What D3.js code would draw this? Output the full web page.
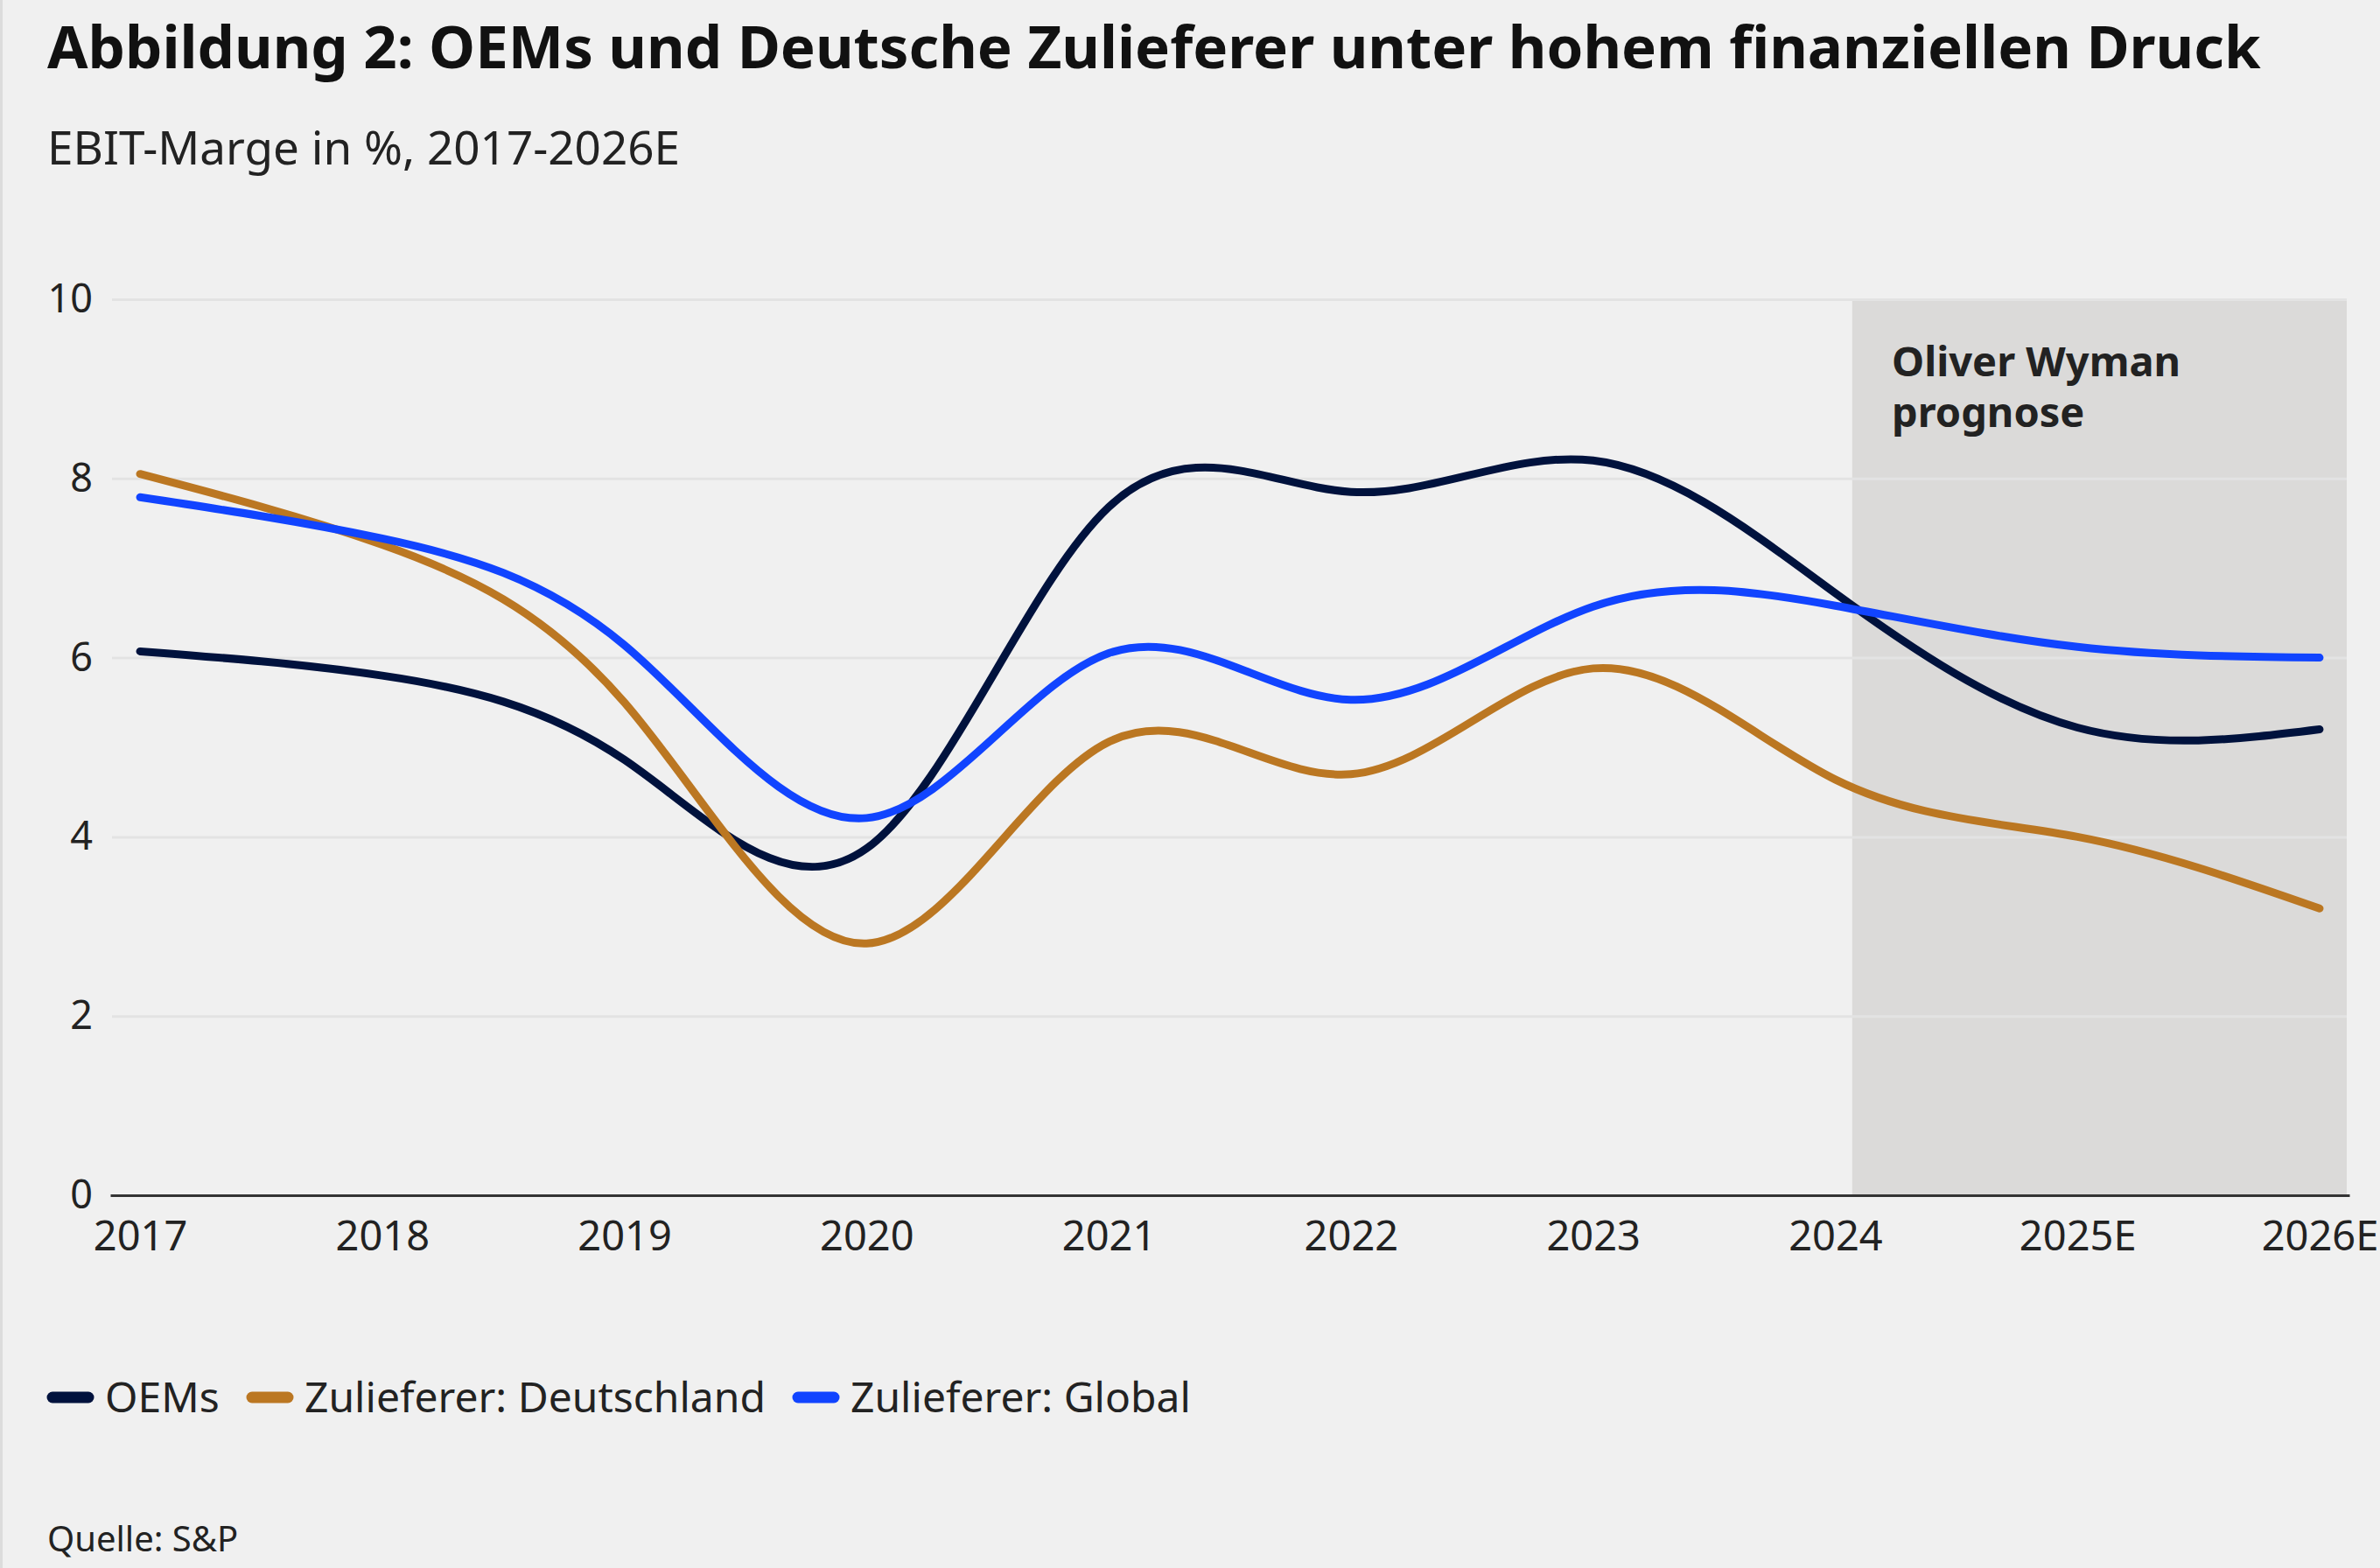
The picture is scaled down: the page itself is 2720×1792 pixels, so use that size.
<!DOCTYPE html>
<html>
<head>
<meta charset="utf-8">
<script src="https://cdn.jsdelivr.net/npm/d3@7"></script>
<style>
  html, body { margin: 0; padding: 0; background: #f0f0f0; }
  svg { display: block; font-family: "Noto Sans", sans-serif; }
</style>
</head>
<body>
<svg width="2720" height="1792"></svg>
<script>
// data
const years = ['2017', '2018', '2019', '2020', '2021', '2022', '2023', '2024', '2025E', '2026E'];
const oems = [6.07, 5.8, 4.86, 3.87, 7.68, 7.85, 8.2, 6.72, 5.22, 5.2];
const zuliefererDE = [8.05, 7.26, 5.5, 2.81, 5.06, 4.7, 5.88, 4.64, 4.0, 3.2];
const zuliefererGlobal = [7.79, 7.33, 6.14, 4.21, 6.05, 5.53, 6.57, 6.58, 6.12, 6.0];
const yTicks = [0, 2, 4, 6, 8, 10];
const forecastFrom = '2024';

const series = [
  { name: 'OEMs', values: oems, color: '#00123d' },
  { name: 'Zulieferer: Deutschland', values: zuliefererDE, color: '#bb7722' },
  { name: 'Zulieferer: Global', values: zuliefererGlobal, color: '#1144ff' }
];

const svg = d3.select('svg');
const width = +svg.attr('width');
const height = +svg.attr('height');

svg.append('rect').attr('width', width).attr('height', height).attr('fill', '#f0f0f0');
svg.append('rect').attr('width', 3).attr('height', height).attr('fill', '#dcdcdc');

// titles
svg.append('text')
   .attr('x', 54).attr('y', 78)
   .attr('font-size', 67.2).attr('font-weight', 700).attr('fill', '#111')
   .text('Abbildung 2: OEMs und Deutsche Zulieferer unter hohem finanziellen Druck');
svg.append('text')
   .attr('x', 54).attr('y', 188)
   .attr('font-size', 53).attr('fill', '#222')
   .text('EBIT-Marge in %, 2017-2026E');

const plot = { left: 126, right: 2685, top: 342, bottom: 1366 };

const xScale = d3.scalePoint()
                 .domain(years)
                 .range([plot.left, plot.right])
                 .padding(0.123);

const yScale = d3.scaleLinear()
                 .domain([0, 10])
                 .range([plot.bottom, plot.top]);

// forecast shading
const shadeStart = xScale(forecastFrom) + 0.07 * xScale.step();
svg.append('rect')
   .attr('x', shadeStart)
   .attr('y', yScale(10))
   .attr('width', 2682 - shadeStart)
   .attr('height', yScale(0) - yScale(10))
   .attr('fill', '#dbdad9');

// y axis + gridlines
const yAxis = d3.axisLeft(yScale)
                .tickValues(yTicks)
                .tickSizeInner(-(2682 - 128))
                .tickSizeOuter(0)
                .tickPadding(22);
const yG = svg.append('g').attr('transform', 'translate(128,0)').call(yAxis);
yG.select('.domain').remove();
yG.selectAll('.tick line').attr('stroke', '#e3e3e3').attr('stroke-width', 3);
yG.selectAll('.tick text')
  .attr('font-size', 45).attr('fill', '#222')
  .attr('font-family', '"Noto Sans", sans-serif');
yG.selectAll('.tick').filter(d => d === 0).select('line').remove();

// annotation (two lines)
svg.append('text')
   .attr('x', 2162).attr('y', 430)
   .attr('font-size', 47).attr('font-weight', 700).attr('fill', '#222')
   .text('Oliver Wyman');
svg.append('text')
   .attr('x', 2162).attr('y', 488)
   .attr('font-size', 47).attr('font-weight', 700).attr('fill', '#222')
   .text('prognose');

// x axis
const xAxis = d3.axisBottom(xScale).tickSize(0).tickPadding(30);
const xG = svg.append('g').attr('transform', `translate(0,${plot.bottom})`).call(xAxis);
xG.select('.domain').attr('stroke', '#333').attr('stroke-width', 3);
xG.selectAll('.tick text')
  .attr('font-size', 47).attr('fill', '#222')
  .attr('font-family', '"Noto Sans", sans-serif');

// lines
const line = d3.line()
               .x((d, i) => xScale(years[i]))
               .y(d => yScale(d))
               .curve(d3.curveNatural);

svg.selectAll('path.series').data(series)
   .enter().append('path')
      .attr('class', 'series')
      .attr('d', d => line(d.values))
      .attr('fill', 'none')
      .attr('stroke', d => d.color)
      .attr('stroke-width', 9)
      .attr('stroke-linecap', 'round')
      .attr('stroke-linejoin', 'round');

// legend
const legendX = [54, 282, 906];
const legend = svg.selectAll('g.legend').data(series)
   .enter().append('g')
      .attr('class', 'legend')
      .attr('transform', (d, i) => `translate(${legendX[i]},1597)`);
legend.append('line')
      .attr('x1', 6).attr('x2', 47)
      .attr('stroke', d => d.color)
      .attr('stroke-width', 13)
      .attr('stroke-linecap', 'round');
legend.append('text')
      .attr('x', 66).attr('dy', '0.35em')
      .attr('font-size', 48).attr('fill', '#222')
      .text(d => d.name);

svg.append('text')
   .attr('x', 54).attr('y', 1773)
   .attr('font-size', 40).attr('fill', '#222')
   .text('Quelle: S&P');
</script>
</body>
</html>
